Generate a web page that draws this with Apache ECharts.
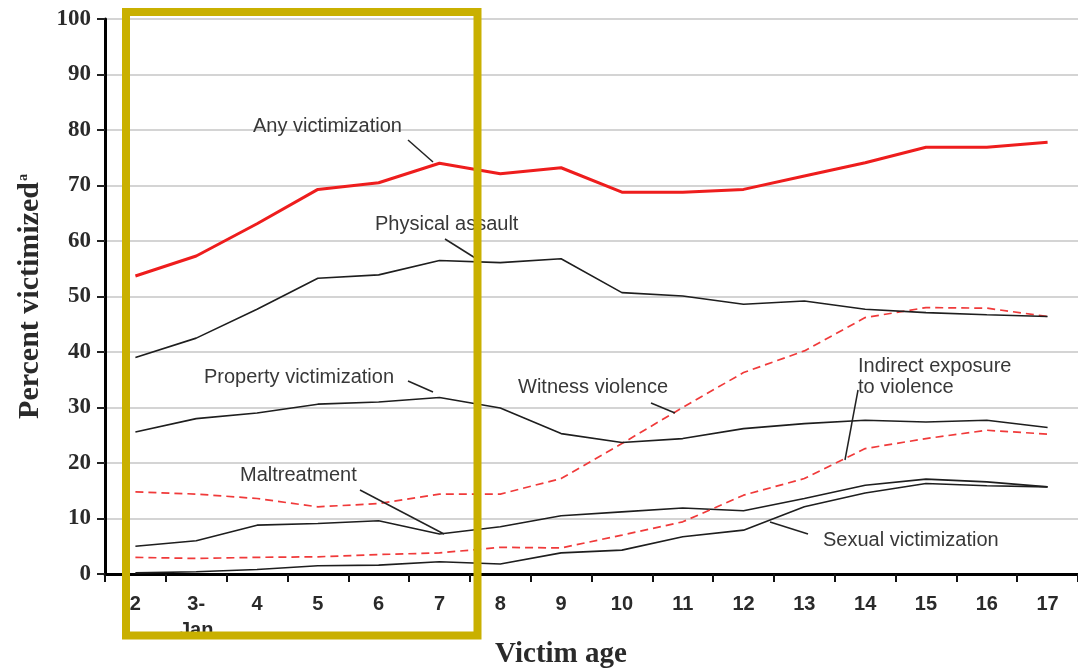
<!DOCTYPE html>
<html>
<head>
<meta charset="utf-8">
<title>Percent victimized by victim age</title>
<script src="https://cdn.jsdelivr.net/npm/echarts@6/dist/echarts.min.js"></script>
<style>
  html, body { margin: 0; padding: 0; background: #fff; }
  #main { width: 1078px; height: 668px; }
</style>
</head>
<body>
<div id="main"></div>
<script>
// 数据
var ages = ['2', '3-Jan', '4', '5', '6', '7', '8', '9', '10', '11', '12', '13', '14', '15', '16', '17'];
var yTicks = [0, 10, 20, 30, 40, 50, 60, 70, 80, 90, 100];

var anyVictimization = [53.7, 57.3, 63.1, 69.3, 70.5, 74.0, 72.1, 73.2, 68.8, 68.8, 69.3, 71.7, 74.1, 76.9, 76.9, 77.8];
var physicalAssault = [39.0, 42.5, 47.7, 53.3, 53.9, 56.5, 56.1, 56.8, 50.7, 50.1, 48.6, 49.2, 47.7, 47.1, 46.7, 46.4];
var propertyVictimization = [25.6, 28.0, 29.0, 30.6, 31.0, 31.8, 29.9, 25.3, 23.7, 24.4, 26.2, 27.1, 27.7, 27.4, 27.7, 26.4];
var witnessViolence = [14.8, 14.4, 13.6, 12.1, 12.7, 14.4, 14.4, 17.2, 23.5, 30.0, 36.3, 40.2, 46.2, 48.0, 47.9, 46.4];
var indirectExposure = [3.0, 2.8, 3.0, 3.1, 3.5, 3.8, 4.8, 4.7, 7.0, 9.4, 14.2, 17.2, 22.6, 24.4, 25.9, 25.2];
var maltreatment = [5.0, 6.0, 8.8, 9.1, 9.6, 7.2, 8.5, 10.5, 11.2, 11.9, 11.4, 13.6, 16.0, 17.1, 16.6, 15.7];
var sexualVictimization = [0.2, 0.4, 0.8, 1.5, 1.6, 2.2, 1.8, 3.8, 4.3, 6.7, 7.9, 12.1, 14.6, 16.3, 15.9, 15.7];

var chart = echarts.init(document.getElementById('main'), null, { renderer: 'canvas' });

var RED = '#ee1d1d';
var DASH_RED = '#f03a3a';
var BLACK = '#1e1e1e';
var LABEL_FONT = '"Liberation Sans", Arial, sans-serif';
var SERIF = '"Liberation Serif", "Times New Roman", serif';

function blackLine(name, data) {
    return { name: name, type: 'line', data: data, symbol: 'none', z: 3,
        lineStyle: { color: BLACK, width: 1.6 } };
}
function dashLine(name, data) {
    return { name: name, type: 'line', data: data, symbol: 'none', z: 3,
        lineStyle: { color: DASH_RED, width: 1.7, type: [8, 5] } };
}

// 注释文字 + 引线
function note(text, x, y) {
    return { type: 'text', x: x, y: y, z: 20,
        style: { text: text, font: '20px ' + LABEL_FONT, fill: '#383838', verticalAlign: 'middle', lineHeight: 21 } };
}
function leader(x1, y1, x2, y2) {
    return { type: 'line', z: 20, shape: { x1: x1, y1: y1, x2: x2, y2: y2 },
        style: { stroke: '#222', lineWidth: 1.5 } };
}

var option = {
    backgroundColor: '#ffffff',
    animation: false,
    grid: { left: 105, top: 19, bottom: 94, right: -12 },
    xAxis: {
        type: 'category',
        data: ages,
        boundaryGap: true,
        axisLine: { lineStyle: { color: '#000', width: 3 } },
        axisTick: { show: true, length: 8, lineStyle: { color: '#111', width: 2 } },
        axisLabel: {
            margin: 17,
            fontFamily: LABEL_FONT,
            fontWeight: 'bold',
            fontSize: 20,
            lineHeight: 26,
            color: '#2a2a2a',
            interval: 0,
            formatter: function (v) { return v.replace('-', '-\n'); }
        }
    },
    yAxis: {
        type: 'value',
        min: yTicks[0],
        max: yTicks[yTicks.length - 1],
        interval: 10,
        name: 'Percent victimized{sup|a}',
        nameLocation: 'middle',
        nameRotate: 90,
        nameGap: 58,
        nameTextStyle: {
            fontFamily: SERIF, fontWeight: 'bold', fontSize: 30, color: '#2a2a2a',
            rich: { sup: { fontFamily: SERIF, fontWeight: 'bold', fontSize: 14, color: '#2a2a2a', padding: [0, 0, 14, 1] } }
        },
        axisLine: { show: true, lineStyle: { color: '#000', width: 3 } },
        axisTick: { show: true, length: 8, lineStyle: { color: '#222', width: 2 } },
        axisLabel: { margin: 14, fontFamily: SERIF, fontWeight: 'bold', fontSize: 23, color: '#2a2a2a' },
        splitLine: { show: true, lineStyle: { color: '#d4d4d4', width: 2 } }
    },
    series: [
        blackLine('Sexual victimization', sexualVictimization),
        blackLine('Maltreatment', maltreatment),
        dashLine('Indirect exposure to violence', indirectExposure),
        dashLine('Witness violence', witnessViolence),
        blackLine('Property victimization', propertyVictimization),
        blackLine('Physical assault', physicalAssault),
        { name: 'Any victimization', type: 'line', data: anyVictimization, symbol: 'none', z: 4,
          lineStyle: { color: RED, width: 3 } }
    ],
    graphic: [
        note('Any victimization', 253, 126),
        leader(408, 140, 433, 162),
        note('Physical assault', 375, 224),
        leader(445, 239, 480, 261),
        note('Property victimization', 204, 377),
        leader(408, 381, 433, 392),
        note('Witness violence', 518, 387),
        leader(651, 403, 675, 413),
        note('Indirect exposure\nto violence', 858, 377),
        leader(858, 390, 845, 460),
        note('Maltreatment', 240, 475),
        leader(360, 490, 444, 534),
        note('Sexual victimization', 823, 540),
        leader(770, 522, 808, 534),
        // x 轴标题
        { type: 'text', x: 561, y: 655, z: 20,
          style: { text: 'Victim age', font: 'bold 29px ' + SERIF, fill: '#2a2a2a', align: 'center', verticalAlign: 'middle' } },
        // 黄色高亮框
        { type: 'rect', z: 50, shape: { x: 126, y: 12, width: 351.5, height: 623.5 },
          style: { fill: 'none', stroke: '#c9b000', lineWidth: 8 } }
    ]
};

chart.setOption(option);

window.onresize = function () {
    chart.resize();
};
</script>
</body>
</html>
